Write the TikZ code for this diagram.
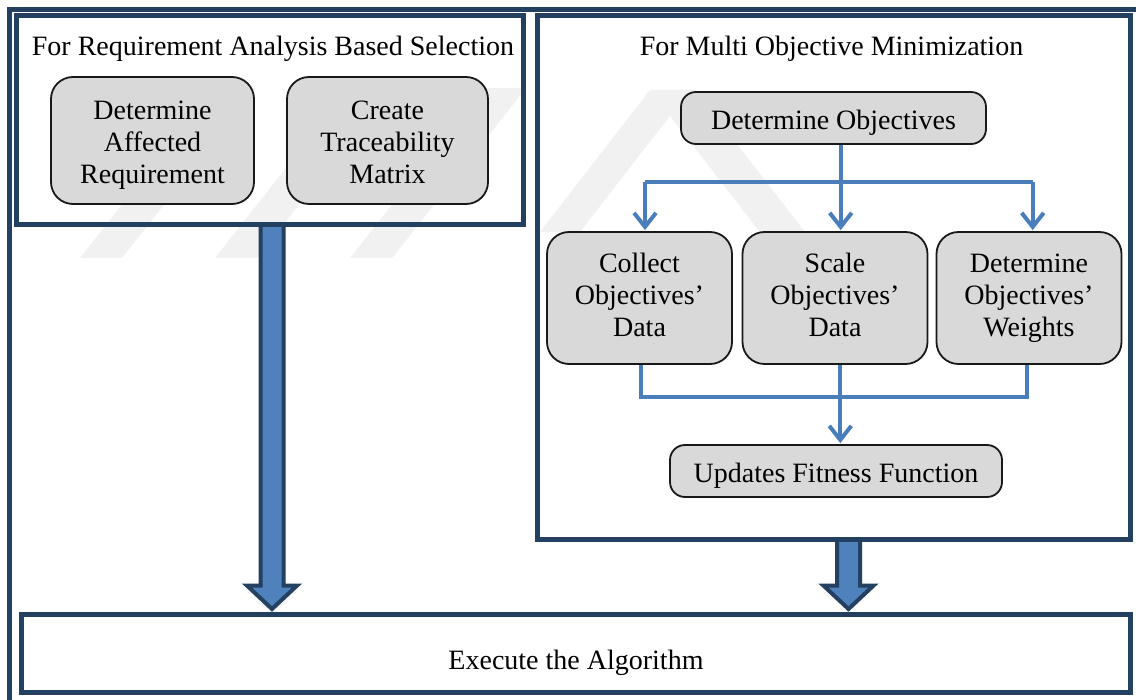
\documentclass[tikz,border=0pt]{standalone}
\usepackage{fontspec}
\setmainfont{Liberation Serif}
\usetikzlibrary{arrows.meta,calc}
\definecolor{navy}{RGB}{36,64,97}
\definecolor{arrowblue}{RGB}{79,129,189}
\definecolor{linkblue}{RGB}{74,126,187}
\definecolor{boxgray}{RGB}{217,217,217}
\definecolor{wmgray}{RGB}{241,241,241}
\begin{document}
\begin{tikzpicture}[x=1pt,y=-1pt,
  frame/.style={draw=navy,line width=5pt,inner sep=0pt,line join=miter},
  proc/.style={draw=black!90,line width=1.8pt,fill=boxgray,rounded corners=22pt,align=center,inner sep=0pt,font=\fontsize{28}{32}\selectfont},
  procflat/.style={proc,rounded corners=15pt,text height=24pt,text depth=0pt},
  title/.style={font=\fontsize{28}{32}\selectfont,anchor=base,inner sep=0pt},
  link/.style={draw=linkblue,line width=4pt},
  flowtip/.style={-{Straight Barb[length=14pt,width=22pt]}},
  bigarrow/.style={draw=navy,fill=arrowblue,line width=4pt,line join=miter},
  wmark/.style={fill=wmgray,draw=none}]
\useasboundingbox (0,0) rectangle (1136,700);
\fill[white] (0,0) rectangle (1136,700);
% faint watermark
\foreach \b in {80,215,350}{
  \path[wmark] (\b,258) -- (\b+42,258) -- (\b+176,88) -- (\b+134,88) -- cycle;
}
\path[wmark] (540,232) -- (580,232) -- (690,90) -- (650,90) -- cycle;
\path[wmark] (650,90) -- (695,90) -- (805,232) -- (760,232) -- cycle;
% outer frame
\draw[navy,line width=5pt,line join=miter] (1136,9.5) -- (9.5,9.5) -- (9.5,700);
% big arrows
\coordinate (la1) at (272,224.5);
\coordinate (la2) at (272,609);
\coordinate (ra1) at (848.5,539.5);
\coordinate (ra2) at (848.5,609);
\path[bigarrow] (la1) ++(-11.5,0) -- ++(0,361.1) -- ++(-13.5,0) -- (la2) -- ++(25,-23.4) -- ++(-13.5,0) -- ++(0,-361.1) -- cycle;
\path[bigarrow] (ra1) ++(-11.5,0) -- ++(0,46.1) -- ++(-13.5,0) -- (ra2) -- ++(25,-23.4) -- ++(-13.5,0) -- ++(0,-46.1) -- cycle;
% frames
\node[frame,minimum width=506.5pt,minimum height=208.5pt] (lf) at (269.75,120.25) {};
\node[frame,minimum width=593pt,minimum height=523.5pt] (rf) at (834,277.75) {};
\node[frame,minimum width=1109pt,minimum height=78pt] (bf) at (576,653.5) {};
\node[title] (lt) at (273,56) {For Requirement Analysis Based Selection};
\node[title] (rt) at (831.5,56) {For Multi Objective Minimization};
\node[title] (ex) at (576,669) {Execute the Algorithm};
% process boxes
\node[proc,minimum width=203pt,minimum height=127pt] (A) at (152.5,140.5) {\rule{0pt}{31pt}Determine\\Affected\\Requirement\rule[-8pt]{0pt}{8pt}};
\node[proc,minimum width=201pt,minimum height=127pt] (B) at (387.5,140.5) {\rule{0pt}{31pt}Create\\Traceability\\Matrix\rule[-8pt]{0pt}{8pt}};
\node[procflat,minimum width=305pt,minimum height=52pt] (C) at (833.5,118) {Determine Objectives};
\node[proc,minimum width=185pt,minimum height=132pt] (D) at (639.5,298) {\rule{0pt}{22pt}Collect\\Objectives’\\Data\rule[-8pt]{0pt}{8pt}};
\node[proc,minimum width=185pt,minimum height=132pt] (E) at (835,298) {\rule{0pt}{22pt}Scale\\Objectives’\\Data\rule[-8pt]{0pt}{8pt}};
\node[proc,minimum width=185pt,minimum height=132pt] (F) at (1029,298) {\rule{0pt}{22pt}Determine\\Objectives’\\Weights\rule[-8pt]{0pt}{8pt}};
\node[procflat,minimum width=332pt,minimum height=52pt] (G) at (836,471) {Updates Fitness Function};
% connectors
\coordinate (split) at (840.7,181.7);
\coordinate (sl) at (645,181.7);
\coordinate (sr) at (1032.7,181.7);
\draw[link] ($(C.south)+(7.2,0)$) -- (split);
\draw[link] (sl) -- (sr);
\draw[link,flowtip] (sl) -- ($(sl |- D.north)+(0,-1)$);
\draw[link,flowtip] (split) -- ($(split |- E.north)+(0,-1)$);
\draw[link,flowtip] (sr) -- ($(sr |- F.north)+(0,-1)$);
\coordinate (jl) at (640.9,397.3);
\coordinate (jr) at (1027.4,397.3);
\coordinate (jm) at (840.3,397.3);
\draw[link] (jl |- D.south) -- (jl) -- (jr) -- (jr |- F.south);
\draw[link,flowtip] (jm |- E.south) -- ($(jm |- G.north)+(0,-1)$);
\end{tikzpicture}
\end{document}
